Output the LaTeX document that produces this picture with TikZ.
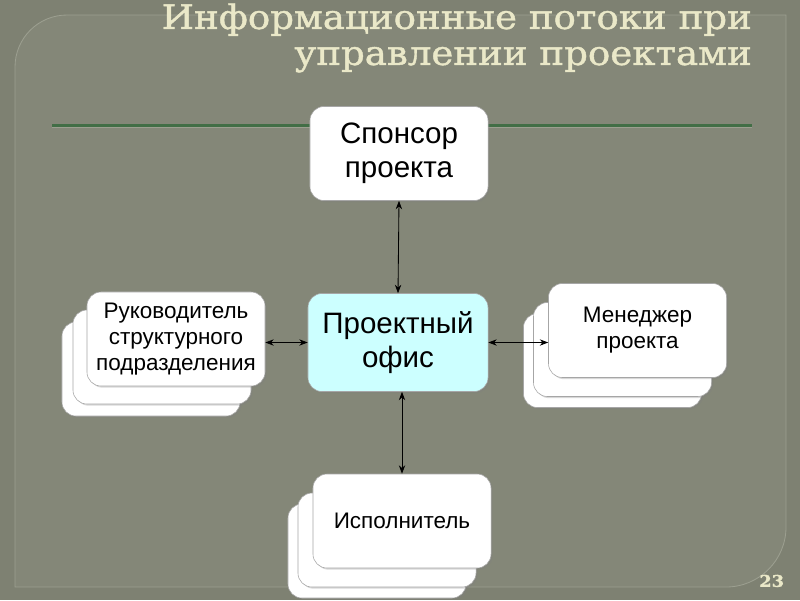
\documentclass[tikz,border=0pt]{standalone}
\usepackage{fontspec}
\setmainfont{Liberation Sans}
\newfontfamily\titlefont[FakeStretch=1.1,FakeBold=1.2]{DejaVu Serif}
\usepackage{tikz}
\usetikzlibrary{shadows,arrows.meta}
\definecolor{slidebg}{RGB}{126,129,114}
\definecolor{slidein}{RGB}{132,135,120}
\definecolor{slideframe}{RGB}{156,159,144}
\definecolor{slidetitle}{RGB}{234,232,200}
\definecolor{rulegreen}{RGB}{66,110,70}
\definecolor{officecyan}{RGB}{204,255,255}
\tikzset{
  box/.style={draw=black!35,fill=white,rounded corners=0.35cm,
    minimum width=4.45cm,minimum height=2.35cm,align=center,
    drop shadow={opacity=0.3,shadow xshift=1.2pt,shadow yshift=-1.2pt}},
  bigtext/.style={font=\fontsize{21}{24}\selectfont},
  smalltext/.style={font=\fontsize{16}{18.6}\selectfont},
  flow/.style={semithick,{Stealth[length=6pt,width=4.5pt]}-{Stealth[length=6pt,width=4.5pt]}},
}

\begin{document}
\begin{tikzpicture}[x=0.025cm,y=-0.025cm]
      \useasboundingbox (0,0) rectangle (800,600);
      \fill [slidebg] (0,0) rectangle (800,600);
      \filldraw [fill=slidein,draw=slideframe,semithick]
        (15,587) -- (15,67) arc (180:270:52) -- (786,15) -- (786,527)
        arc (0:90:60) -- cycle;
      \node [anchor=north east,inner sep=0pt,align=right,text=slidetitle,
        font=\titlefont\fontsize{24}{25.6}\selectfont] (t) at (752,3)
        {Информационные потоки при\\управлении проектами};
      \draw [rulegreen,line width=1.5pt] (52,125.5) -- (752,125.5);
      \draw [slideframe,line width=0.5pt] (52,127.8) -- (752,127.8);
      \node [anchor=south east,text=slidetitle,font=\titlefont\bfseries\fontsize{11.5}{13}\selectfont] (n) at (789,592) {23};

      % central office and sponsor
      \node [box,bigtext] (p1) at (399,153.5) {Спонсор\\проекта};
      \node [box,bigtext,fill=officecyan,minimum width=4.5cm,minimum height=2.45cm] (p2) at (398,342.5) {Проектный\\офис};

      % stacked boxes
      \node [box] (p3c) at (151,369) {};
      \node [box] (p3b) at (162,357) {};
      \node [box,smalltext] (p3) at (176,339) {Руководитель\\структурного\\подразделения};
      \node [box] (p4c) at (612.5,360.5) {};
      \node [box] (p4b) at (622.5,349.5) {};
      \node [box,smalltext] (p4) at (637.5,330.5) {Менеджер\\проекта};
      \node [box] (p5c) at (377,551) {};
      \node [box] (p5b) at (387,540) {};
      \node [box,smalltext] (p5) at (402,521) {Исполнитель};

      \draw [flow] (p1.south) -- (p2.north);
      \draw [flow] (p2.west) -- (p2.west -| p3.east);
      \draw [flow] (p2.east) -- (p2.east -| p4.west);
      \draw [flow] (p2.south -| p5.north) -- (p5.north);
\end{tikzpicture}
\end{document}
